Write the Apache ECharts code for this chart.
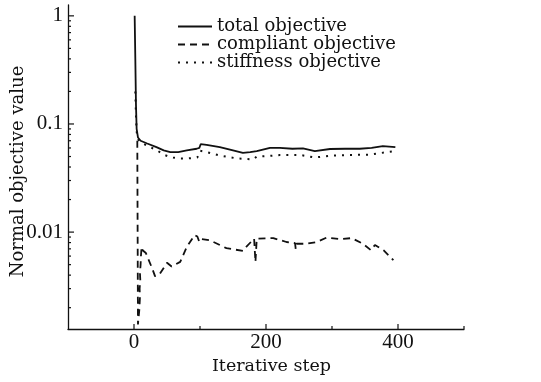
<!DOCTYPE html>
<html>
<head>
<meta charset="utf-8">
<script src="https://cdn.jsdelivr.net/npm/echarts@6/dist/echarts.min.js"></script>
<style>
  html, body { margin: 0; padding: 0; background: #fff; }
  #chart { width: 541px; height: 382px; }
</style>
</head>
<body>
<div id="chart"></div>
<script>
// series data (step, normalised objective)
var totalSteps = [1, 2, 3, 4, 6, 10, 12, 20, 34, 45, 55, 67, 80, 95, 99, 101, 110, 130, 150, 165, 176, 186, 206, 221, 240, 256, 274, 297, 320, 342, 360, 377, 396];
var totalValues = [1.0, 0.4, 0.15, 0.09, 0.075, 0.07, 0.0686, 0.066, 0.061, 0.057, 0.055, 0.055, 0.057, 0.059, 0.06, 0.065, 0.064, 0.061, 0.057, 0.054, 0.055, 0.056, 0.06, 0.06, 0.059, 0.0595, 0.056, 0.0587, 0.059, 0.059, 0.06, 0.0625, 0.061];

var compliantSteps = [5, 6, 8, 9, 8.5, 9.5, 9, 10, 10.5, 11.5, 13, 18, 27, 32, 39, 50, 57, 70, 80, 92, 96, 99, 102.5, 115, 140, 165, 170, 182, 184, 186, 211, 231, 244, 245, 246, 261, 277, 292, 312, 330, 347, 359, 365, 378, 393];
var compliantValues = [0.07, 0.0014, 0.0019, 0.0025, 0.003, 0.0036, 0.0042, 0.005, 0.006, 0.0073, 0.0068, 0.0064, 0.0047, 0.0039, 0.0041, 0.0052, 0.0048, 0.0053, 0.0073, 0.0094, 0.0091, 0.0081, 0.0086, 0.0084, 0.0071, 0.0067, 0.0073, 0.0087, 0.0053, 0.0087, 0.0088, 0.0081, 0.0079, 0.007, 0.0078, 0.0078, 0.0081, 0.0089, 0.0086, 0.0088, 0.0078, 0.0068, 0.0076, 0.0068, 0.0055];

var stiffnessSteps = [2, 3, 4, 6, 10, 12, 22, 34, 45, 57, 70, 82, 96, 100, 110, 130, 156, 181, 186, 206, 221, 252, 274, 300, 327, 355, 385, 396];
var stiffnessValues = [0.2, 0.12, 0.085, 0.072, 0.068, 0.067, 0.062, 0.0575, 0.052, 0.049, 0.048, 0.048, 0.049, 0.0565, 0.055, 0.051, 0.048, 0.047, 0.05, 0.0507, 0.0516, 0.0517, 0.049, 0.051, 0.0517, 0.052, 0.055, 0.056];

// axis labels and ticks
var xLabelValues = [0, 200, 400];
var xMinorValues = [100, 300, 500];
var yLabelValues = [0.01, 0.1, 1];
var yMinorValues = [0.002, 0.003, 0.004, 0.005, 0.006, 0.007, 0.008, 0.009,
  0.02, 0.03, 0.04, 0.05, 0.06, 0.07, 0.08, 0.09,
  0.2, 0.3, 0.4, 0.5, 0.6, 0.7, 0.8, 0.9];

var xMin = -100, xMax = 500;
var yMin = 0.00127, yMax = 1.26;

function pairs(xs, ys) {
  var out = [];
  for (var i = 0; i < xs.length; i++) {
    out.push([xs[i], ys[i]]);
  }
  return out;
}

var ink = '#111';
var serif = '"DejaVu Serif", serif';
var tickFont = '"Liberation Serif", serif';

// inward ticks, placed through the axes' own scales
function tickSeries(dir, values, length) {
  var data = values.map(function(v) {
    return dir === 'x' ? [v, yMin] : [xMin, v];
  });
  return {
    type: 'custom',
    silent: true,
    clip: false,
    z: 5,
    data: data,
    renderItem: function(params, api) {
      var p = api.coord([api.value(0), api.value(1)]);
      var shape = dir === 'x'
        ? { x1: p[0], y1: p[1], x2: p[0], y2: p[1] - length }
        : { x1: p[0], y1: p[1], x2: p[0] + length, y2: p[1] };
      return { type: 'line', shape: shape, style: { stroke: ink, lineWidth: 1.2 } };
    }
  };
}

var chart = echarts.init(document.getElementById('chart'), null, { renderer: 'canvas' });

var option = {
  animation: false,
  backgroundColor: '#fff',
  grid: { left: 68, right: 77, top: 5, bottom: 53, outerBoundsMode: 'none' },
  legend: {
    orient: 'vertical',
    left: 172,
    top: 12.5,
    itemWidth: 34,
    itemHeight: 18,
    itemGap: 0,
    itemStyle: { opacity: 0 },
    textStyle: { fontFamily: serif, fontSize: 18, color: ink, lineHeight: 18 },
    data: ['total objective', 'compliant objective', 'stiffness objective']
  },
  xAxis: {
    type: 'value',
    min: xMin,
    max: xMax,
    interval: 100,
    splitLine: { show: false },
    axisLine: { onZero: false, lineStyle: { color: ink, width: 1.3 } },
    axisTick: { show: false },
    axisLabel: { customValues: xLabelValues, margin: 3, fontFamily: tickFont, fontSize: 21, color: ink },
    name: 'Iterative step',
    nameLocation: 'middle',
    nameGap: 26,
    nameTextStyle: { fontFamily: serif, fontSize: 17.5, color: ink, padding: [0, 0, 0, 11] }
  },
  yAxis: {
    type: 'log',
    logBase: 10,
    min: yMin,
    max: yMax,
    splitLine: { show: false },
    axisLine: { onZero: false, lineStyle: { color: ink, width: 1.3 } },
    axisTick: { show: false },
    axisLabel: { customValues: yLabelValues, margin: 5, fontFamily: tickFont, fontSize: 21, color: ink },
    name: 'Normal objective value',
    nameLocation: 'middle',
    nameGap: 41,
    nameRotate: 90,
    nameMoveOverlap: false,
    nameTextStyle: { fontFamily: serif, fontSize: 18, color: ink, padding: [0, 9, 0, 0] }
  },
  series: [{
    name: 'total objective',
    type: 'line',
    symbol: 'none',
    data: pairs(totalSteps, totalValues),
    lineStyle: { color: ink, width: 1.8, type: 'solid' },
    itemStyle: { color: ink }
  }, {
    name: 'compliant objective',
    type: 'line',
    symbol: 'none',
    data: pairs(compliantSteps, compliantValues),
    lineStyle: { color: ink, width: 1.8, type: [7, 5] },
    itemStyle: { color: ink }
  }, {
    name: 'stiffness objective',
    type: 'line',
    symbol: 'none',
    data: pairs(stiffnessSteps, stiffnessValues),
    lineStyle: { color: ink, width: 2, type: [2, 6] },
    itemStyle: { color: ink }
  },
  tickSeries('x', xLabelValues, 5),
  tickSeries('x', xMinorValues, 3),
  tickSeries('y', yLabelValues, 6),
  tickSeries('y', yMinorValues, 3)]
};

chart.setOption(option);
</script>
</body>
</html>
